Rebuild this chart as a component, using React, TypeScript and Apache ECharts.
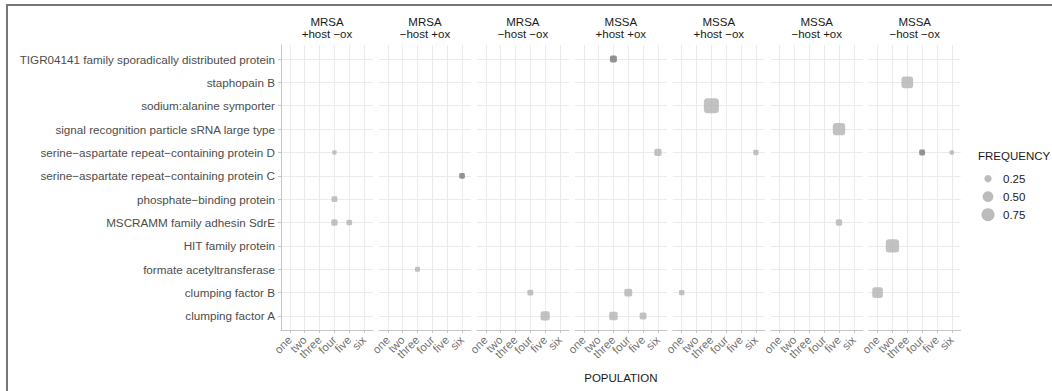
import React, { useEffect, useRef } from "react";
import * as echarts from "echarts";

// Population levels on every panel's x axis
const populations = ["one", "two", "three", "four", "five", "six"];

// Gene products, listed bottom to top on the y axis
const genes = [
  "clumping factor A",
  "clumping factor B",
  "formate acetyltransferase",
  "HIT family protein",
  "MSCRAMM family adhesin SdrE",
  "phosphate−binding protein",
  "serine−aspartate repeat−containing protein C",
  "serine−aspartate repeat−containing protein D",
  "signal recognition particle sRNA large type",
  "sodium:alanine symporter",
  "staphopain B",
  "TIGR04141 family sporadically distributed protein",
];

// Facet strips (strain / condition)
const strains = ["MRSA", "MRSA", "MRSA", "MSSA", "MSSA", "MSSA", "MSSA"];
const conditions = [
  "+host −ox",
  "−host +ox",
  "−host −ox",
  "+host +ox",
  "+host −ox",
  "−host +ox",
  "−host −ox",
];

// [panel, population index, gene index, frequency, overlapping records]
const observations: [number, number, number, number, number][] = [
  [0, 3, 7, 0.13, 1],
  [0, 3, 5, 0.18, 1],
  [0, 3, 4, 0.2, 1],
  [0, 4, 4, 0.17, 1],
  [1, 5, 6, 0.17, 2],
  [1, 2, 2, 0.15, 1],
  [2, 3, 1, 0.18, 1],
  [2, 4, 0, 0.38, 1],
  [3, 2, 11, 0.23, 2],
  [3, 5, 7, 0.25, 1],
  [3, 3, 1, 0.29, 1],
  [3, 2, 0, 0.33, 1],
  [3, 4, 0, 0.23, 1],
  [4, 2, 9, 1.0, 1],
  [4, 5, 7, 0.16, 1],
  [4, 0, 1, 0.16, 1],
  [5, 4, 8, 0.67, 1],
  [5, 4, 4, 0.2, 1],
  [6, 2, 10, 0.6, 1],
  [6, 3, 7, 0.18, 2],
  [6, 5, 7, 0.13, 1],
  [6, 1, 3, 0.78, 1],
  [6, 0, 1, 0.5, 1],
];

// Size legend breaks
const legendBreaks = [0.25, 0.5, 0.75];

const FONT = '"Liberation Sans", Arial, Helvetica, sans-serif';
const AXIS_GREY = "#c6c6c6";
const GRID_GREY = "#ebebeb";
const TEXT_GREY = "#4d4d4d";

// area-style size scale: diameter in px for a frequency
const sizeOf = (v: number) => 2 + 13 * Math.sqrt(Math.max(v - 0.1, 0) / 0.9);

const PANEL_LEFT = 281;
const PANEL_PITCH = 97.95;
const PANEL_WIDTH = 92;
const PANEL_TOP = 45;
const PANEL_HEIGHT = 285;
const X_MIN = -0.6;
const X_MAX = 5.6;
const Y_MIN = -0.6;
const Y_MAX = 11.6;

export default function App() {
  const ref = useRef<HTMLDivElement>(null);

  useEffect(() => {
    if (!ref.current) return;
    const chart = echarts.init(ref.current, undefined, { renderer: "svg" });

    const popTicks = populations.map((_, i) => i);
    const geneTicks = genes.map((_, i) => i);

    const grids = strains.map((_, i) => ({
      left: PANEL_LEFT + i * PANEL_PITCH,
      top: PANEL_TOP,
      width: PANEL_WIDTH,
      height: PANEL_HEIGHT,
      containLabel: false,
    }));

    const xAxes = strains.map((_, i) => ({
      type: "value",
      gridIndex: i,
      min: X_MIN,
      max: X_MAX,
      axisLine: { show: true, onZero: false, lineStyle: { color: AXIS_GREY, width: 1 } },
      axisTick: { show: true, length: 3, customValues: popTicks, lineStyle: { color: AXIS_GREY } },
      // population names are drawn by the label series below
      axisLabel: { show: false, customValues: popTicks },
      splitLine: { show: true, lineStyle: { color: GRID_GREY, width: 1 } },
    }));

    const yAxes = strains.map((_, i) => ({
      type: "value",
      gridIndex: i,
      min: Y_MIN,
      max: Y_MAX,
      axisLine: { show: i === 0, onZero: false, lineStyle: { color: AXIS_GREY, width: 1 } },
      axisTick: { show: i === 0, length: 3, customValues: geneTicks, lineStyle: { color: AXIS_GREY } },
      axisLabel: {
        show: i === 0,
        customValues: geneTicks,
        showMinLabel: true,
        showMaxLabel: true,
        hideOverlap: false,
        formatter: (v: number) => genes[Math.round(v)] ?? "",
        margin: 6,
        fontSize: 11.7,
        color: TEXT_GREY,
        fontFamily: FONT,
      },
      splitLine: { show: true, lineStyle: { color: GRID_GREY, width: 1 } },
    }));

    const pointSeries = strains.map((_, i) => ({
      type: "scatter",
      xAxisIndex: i,
      yAxisIndex: i,
      symbol: "roundRect",
      symbolSize: (val: number[]) => sizeOf(val[2]),
      data: observations
        .filter((o) => o[0] === i)
        .map((o) => ({
          value: [o[1], o[2], o[3]],
          itemStyle: { color: o[4] > 1 ? "#797979" : "#b3b3b3" },
        })),
    }));

    // rotated population names along each panel's bottom axis
    const labelSeries = strains.map((_, i) => ({
      type: "scatter",
      xAxisIndex: i,
      yAxisIndex: i,
      silent: true,
      clip: false,
      symbolSize: 0,
      data: populations.map((p, j) => ({ value: [j, Y_MIN], name: p })),
      label: {
        show: true,
        formatter: "{b}",
        position: [0, 8],
        rotate: 45,
        align: "right",
        verticalAlign: "middle",
        fontSize: 11.5,
        color: TEXT_GREY,
        fontFamily: FONT,
      },
      labelLayout: { hideOverlap: false },
    }));

    const strips = strains.map((s, i) => ({
      type: "text",
      x: PANEL_LEFT + i * PANEL_PITCH + PANEL_WIDTH / 2,
      y: 28.2,
      style: {
        text: `${s}\n${conditions[i]}`,
        textAlign: "center",
        textVerticalAlign: "middle",
        verticalAlign: "middle",
        lineHeight: 12.4,
        fontSize: 11.5,
        fontFamily: FONT,
        fill: "#1a1a1a",
      },
    }));

    const legendItems = legendBreaks.flatMap((v, i) => {
      const cy = 178.7 + i * 18;
      return [
        {
          type: "circle",
          shape: { cx: 988, cy, r: sizeOf(v) / 2 },
          style: { fill: "#bcbcbc" },
        },
        {
          type: "text",
          x: 1003,
          y: cy,
          style: {
            text: v.toFixed(2),
            verticalAlign: "middle",
            textVerticalAlign: "middle",
            fontSize: 11.5,
            fontFamily: FONT,
            fill: "#1a1a1a",
          },
        },
      ];
    });

    chart.setOption({
      animation: false,
      backgroundColor: "#ffffff",
      grid: grids,
      xAxis: xAxes,
      yAxis: yAxes,
      series: [...pointSeries, ...labelSeries],
      graphic: [
        // frame
        { type: "line", shape: { x1: 6, y1: 5, x2: 1052, y2: 5 }, style: { stroke: "#767676", lineWidth: 2 } },
        { type: "line", shape: { x1: 7, y1: 4, x2: 7, y2: 391 }, style: { stroke: "#767676", lineWidth: 2 } },
        ...strips,
        {
          type: "text",
          x: PANEL_LEFT + 3 * PANEL_PITCH + PANEL_WIDTH / 2,
          y: 377.7,
          style: {
            text: "POPULATION",
            textAlign: "center",
            verticalAlign: "middle",
            textVerticalAlign: "middle",
            fontSize: 11.5,
            fontFamily: FONT,
            fill: "#1a1a1a",
          },
        },
        {
          type: "text",
          x: 978,
          y: 156,
          style: {
            text: "FREQUENCY",
            verticalAlign: "middle",
            textVerticalAlign: "middle",
            fontSize: 11.5,
            fontFamily: FONT,
            fill: "#1a1a1a",
          },
        },
        ...legendItems,
      ],
    });

    return () => chart.dispose();
  }, []);

  return (
    <div
      ref={ref}
      style={{ position: "absolute", left: 0, top: 0, width: 1052, height: 391 }}
    />
  );
}
